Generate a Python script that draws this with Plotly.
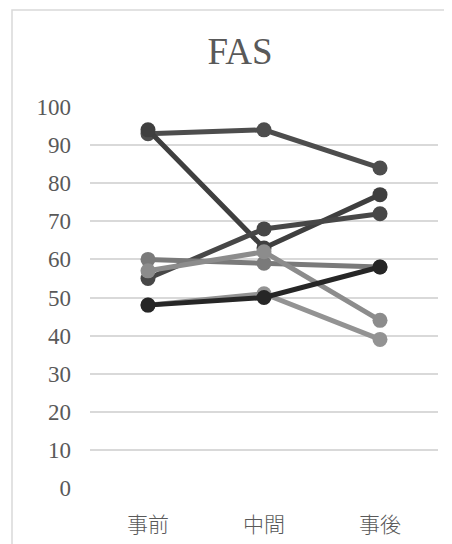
import plotly.graph_objects as go

categories = ["事前", "中間", "事後"]
s1 = [93, 94, 84]
s2 = [94, 63, 77]
s3 = [55, 68, 72]
s4 = [60, 59, 58]
s5 = [57, 62, 44]
s6 = [48, 51, 39]
s7 = [48, 50, 58]
series = [s1, s2, s3, s4, s5, s6, s7]
colors = ["#4d4d4d", "#3f3f3f", "#474747", "#7a7a7a", "#8c8c8c", "#939393", "#262626"]
y_ticks = list(range(0, 101, 10))

SERIF = "'Liberation Serif', 'DejaVu Serif', 'Times New Roman', serif"

fig = go.Figure()
for vals, col in zip(series, colors):
    fig.add_trace(go.Scatter(
        x=categories, y=vals, mode="lines+markers",
        line=dict(color=col, width=5),
        marker=dict(color=col, size=15),
        cliponaxis=False, showlegend=False,
    ))

OFF = 8
L, T = 90 - OFF, 107 - OFF
W, H = 436, 536
pw, ph = 348, 389
R = W - L - pw
B = H - T - ph
y0px = T + OFF + ph  # page y of value 0

fig.update_layout(
    width=W, height=H,
    margin=dict(l=L, r=R, t=T, b=B),
    paper_bgcolor="white", plot_bgcolor="white",
    title=dict(text="FAS", x=(240 - 90) / pw, xref="paper", xanchor="center",
               y=1 - (51 - OFF) / H, yanchor="middle",
               font=dict(family=SERIF, size=37, color="#595959")),
    xaxis=dict(type="category", range=[-0.5, 2.5], showgrid=False, showline=False,
               ticks="", tickfont=dict(family="Noto Sans CJK JP", size=21, color="#595959",
                                       weight=300),
               ticklabelstandoff=22),
    yaxis=dict(range=[0, 100], tickvals=y_ticks, showgrid=True, gridcolor="#d9d9d9",
               gridwidth=1.5, zeroline=False, showline=False, ticks="",
               tickfont=dict(family=SERIF, size=23, color="#595959"),
               ticklabelstandoff=18),
    shapes=[dict(type="rect", xref="paper", yref="paper",
                 x0=(12 - 90) / pw, x1=(480 - 90) / pw,
                 y0=(y0px - 570) / ph, y1=(y0px - 8) / ph,
                 line=dict(color="#d9d9d9", width=1.5), fillcolor="rgba(0,0,0,0)",
                 layer="below")],
)

fig.write_html("out.html")
